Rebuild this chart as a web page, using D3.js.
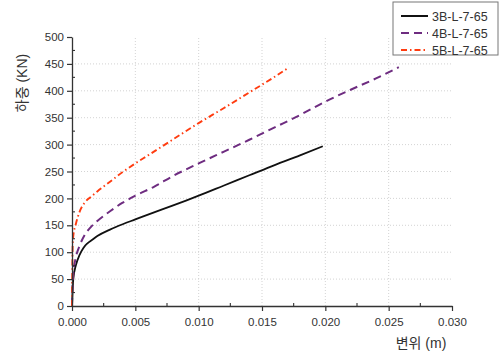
<!DOCTYPE html>
<html>
<head>
<meta charset="utf-8">
<script src="https://cdn.jsdelivr.net/npm/d3@7"></script>
<style>
  body { margin: 0; background: #fff; }
  svg text { font-family: "Liberation Sans", Arial, "Noto Sans CJK KR", sans-serif; fill: #333; }
</style>
</head>
<body>
<svg width="500" height="357"></svg>
<script>
// load (kN) vs displacement (m)
var s3B = [[0,0],[0.00005,30],[0.0001,50],[0.0003,75],[0.0006,95],[0.0009,108],[0.0012,116],[0.0016,123],
  [0.002,130],[0.003,142],[0.004,152],[0.005,161],[0.006,170],[0.0075,183],[0.009,196],[0.010,205],
  [0.012,224],[0.014,243],[0.016,262],[0.018,280],[0.0198,297]];
var s4B = [[0,0],[0.00005,40],[0.0001,60],[0.0003,90],[0.0006,112],[0.001,132],[0.0015,147],[0.002,158],
  [0.003,176],[0.004,192],[0.005,205],[0.0065,222],[0.008,242],[0.010,265],[0.012,287],[0.014,309],
  [0.016,332],[0.018,355],[0.020,380],[0.022,402],[0.024,423],[0.0258,444]];
var s5B = [[0,0],[0.00002,60],[0.00005,110],[0.0001,130],[0.0003,152],[0.0006,175],[0.001,192],[0.0015,203],
  [0.002,213],[0.003,231],[0.004,249],[0.005,265],[0.006,280],[0.008,310],[0.010,340],[0.012,368],
  [0.014,397],[0.016,426],[0.0171,443]];

var seriesNames = ["3B-L-7-65", "4B-L-7-65", "5B-L-7-65"];
var xTicks = [0, 0.005, 0.010, 0.015, 0.020, 0.025, 0.030];
var yTicks = [0, 50, 100, 150, 200, 250, 300, 350, 400, 450, 500];

var series = [
  {name: seriesNames[0], values: s3B, color: "#111111", dash: null, w: 1.8},
  {name: seriesNames[1], values: s4B, color: "#6e2c80", dash: "8,5", w: 2},
  {name: seriesNames[2], values: s5B, color: "#ff3c10", dash: "6,3,1.5,3", w: 1.9}
];

var svg = d3.select("svg");

var x = d3.scaleLinear().domain([0, 0.030]).range([72, 452]);
var y = d3.scaleLinear().domain([0, 500]).range([306, 37]);

// dotted grid
var grid = svg.append("g").attr("stroke", "#c8c8c8").attr("stroke-dasharray", "1,2").attr("stroke-width", 0.8);
grid.selectAll(".gx").data(xTicks.slice(1, -1)).enter().append("line")
    .attr("x1", function(d) { return x(d); }).attr("x2", function(d) { return x(d); })
    .attr("y1", y(0)).attr("y2", y(500));
grid.selectAll(".gy").data(yTicks.slice(1, -1)).enter().append("line")
    .attr("x1", x(0)).attr("x2", x(0.030))
    .attr("y1", function(d) { return y(d); }).attr("y2", function(d) { return y(d); });

// curves
var line = d3.line()
    .x(function(d) { return x(d[0]); })
    .y(function(d) { return y(d[1]); })
    .curve(d3.curveMonotoneX);

svg.selectAll(".curve").data(series).enter().append("path")
    .attr("fill", "none")
    .attr("stroke", function(d) { return d.color; })
    .attr("stroke-width", function(d) { return d.w; })
    .attr("stroke-dasharray", function(d) { return d.dash; })
    .attr("d", function(d) { return line(d.values); });

// axes
var xAxis = svg.append("g").attr("transform", "translate(0," + y(0) + ")")
    .call(d3.axisBottom(x).tickValues(xTicks).tickFormat(d3.format(".3f")).tickSizeInner(5).tickSizeOuter(0));
var yAxis = svg.append("g").attr("transform", "translate(" + x(0) + ",0)")
    .call(d3.axisLeft(y).tickValues(yTicks).tickSizeInner(5).tickSizeOuter(0));

[xAxis, yAxis].forEach(function(a) {
  a.select(".domain").attr("stroke", "#333").attr("stroke-width", 1.3);
  a.selectAll(".tick line").attr("stroke", "#333").attr("stroke-width", 1.2);
  a.selectAll(".tick text").attr("font-size", 11.5).attr("fill", "#333")
      .style("font-family", "'Liberation Sans', Arial, sans-serif");
});
xAxis.selectAll(".tick text").attr("dy", "1.05em");

// minor ticks (inward)
var xMinor = d3.range(0.0025, 0.030, 0.005);
svg.selectAll(".mx").data(xMinor).enter().append("line")
    .attr("x1", function(d) { return x(d); }).attr("x2", function(d) { return x(d); })
    .attr("y1", y(0)).attr("y2", y(0) - 3)
    .attr("stroke", "#333").attr("stroke-width", 1.1);
var yMinor = d3.range(25, 500, 50);
svg.selectAll(".my").data(yMinor).enter().append("line")
    .attr("x1", x(0)).attr("x2", x(0) + 3)
    .attr("y1", function(d) { return y(d); }).attr("y2", function(d) { return y(d); })
    .attr("stroke", "#333").attr("stroke-width", 1.1);

// axis titles
svg.append("text")
    .attr("transform", "translate(27,83) rotate(-90)")
    .attr("text-anchor", "middle")
    .attr("font-size", 14)
    .style("font-family", "'Liberation Sans', Arial, 'Noto Sans CJK KR', sans-serif")
    .text("하중 (KN)");
svg.append("text")
    .attr("x", 421).attr("y", 348)
    .attr("text-anchor", "middle")
    .attr("font-size", 14)
    .style("font-family", "'Liberation Sans', Arial, 'Noto Sans CJK KR', sans-serif")
    .text("변위 (m)");

// legend
var legend = svg.append("g");
legend.append("rect")
    .attr("x", 393).attr("y", 2).attr("width", 105).attr("height", 53)
    .attr("fill", "#fff").attr("stroke", "#777").attr("stroke-width", 1);
var item = legend.selectAll(".item").data(series).enter().append("g")
    .attr("transform", function(d, i) { return "translate(0," + (16 + i * 17) + ")"; });
item.append("line")
    .attr("x1", 401).attr("x2", 428)
    .attr("stroke", function(d) { return d.color; })
    .attr("stroke-width", 2)
    .attr("stroke-dasharray", function(d) { return d.dash; });
item.append("text")
    .attr("x", 432).attr("dy", "0.36em")
    .attr("font-size", 12.5)
    .text(function(d) { return d.name; });
</script>
</body>
</html>
